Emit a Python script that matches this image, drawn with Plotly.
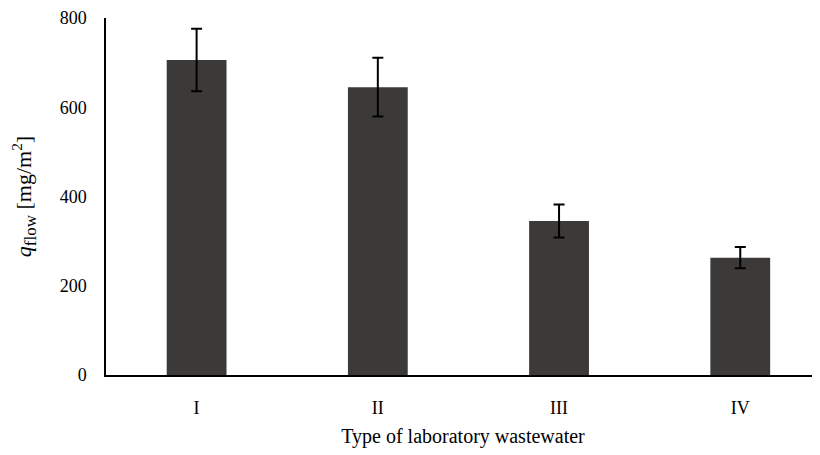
import plotly.graph_objects as go

categories = ["I", "II", "III", "IV"]
values = [706, 645, 345, 263]
errors = [70, 66, 37, 24]
y_ticks = [0, 200, 400, 600, 800]

FONT = "Liberation Serif, Times New Roman, serif"

fig = go.Figure()
fig.add_trace(go.Bar(
    x=categories,
    y=values,
    marker=dict(color="#3b3a39", line=dict(width=0)),
    error_y=dict(type="data", array=errors, visible=True,
                 color="black", thickness=2, width=5.5),
    width=0.33,
))

fig.update_layout(
    width=812, height=455,
    margin=dict(l=98, r=0, t=10, b=88),
    plot_bgcolor="white", paper_bgcolor="white",
    showlegend=False,
    font=dict(family=FONT, size=18, color="black"),
    xaxis=dict(
        range=[-0.5, 3.44],
        automargin=False,
        showline=True, linecolor="black", linewidth=1.5,
        ticks="", showgrid=False, zeroline=False,
        ticklabelstandoff=16,
        title=dict(text="Type of laboratory wastewater", standoff=12,
                   font=dict(family=FONT, size=20)),
    ),
    yaxis=dict(
        range=[0, 800],
        automargin=False,
        tickvals=y_ticks,
        showline=True, linecolor="black", linewidth=1.5,
        ticks="", showgrid=False, zeroline=False,
        ticklabelstandoff=14,
        title=dict(text='<i>q</i><sub><span style="font-size:17px">flow</span></sub> [mg/m<sup>2</sup>]',
                   standoff=29,
                   font=dict(family=FONT, size=22)),
    ),
)

fig.write_html("out.html")
